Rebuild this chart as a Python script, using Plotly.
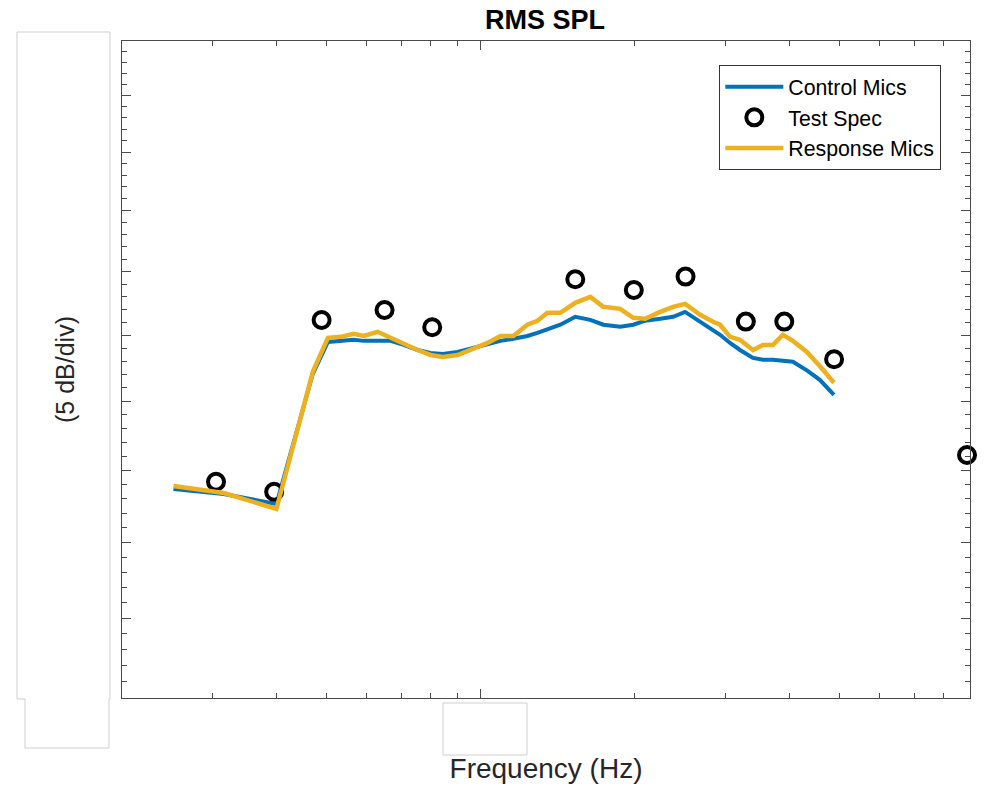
import math
import plotly.graph_objects as go

# ---- data ----
freq_hz = [25.2, 31.6, 40.0, 47.1, 50.4, 53.4, 56.6, 59.2, 63.0, 66.8, 70.8, 75.4,
           79.9, 84.4, 90.2, 96.9, 103.2, 109.4, 115.9, 123.4, 129.1, 135.0, 143.1,
           153.0, 163.7, 173.5, 180.6, 187.2, 198.5, 209.4, 224.0, 237.4, 250.5,
           268.0, 284.0, 293.1, 306.5, 320.5, 339.7, 355.3, 371.6, 388.6, 406.4,
           432.7, 458.6, 488.6]

control_db = [108.68, 108.33, 107.63, 117.04, 119.47, 119.55, 119.63, 119.55, 119.55,
              119.55, 119.24, 118.85, 118.62, 118.55, 118.70, 119.01, 119.32, 119.55,
              119.71, 119.93, 120.17, 120.41, 120.80, 121.42, 121.18, 120.80, 120.72,
              120.64, 120.80, 121.11, 121.26, 121.42, 121.80, 121.03, 120.33, 120.02,
              119.39, 118.85, 118.25, 118.10, 118.10, 118.02, 117.95, 117.30, 116.59,
              115.47]

response_db = [108.89, 108.40, 107.29, 117.19, 119.78, 119.86, 120.09, 119.93, 120.25,
               119.78, 119.39, 118.85, 118.47, 118.32, 118.47, 118.93, 119.39, 119.93,
               119.93, 120.80, 121.11, 121.73, 121.73, 122.51, 122.98, 122.20, 122.12,
               122.04, 121.34, 121.26, 121.80, 122.20, 122.43, 121.57, 121.03, 120.80,
               119.86, 119.63, 118.85, 119.24, 119.24, 120.02, 119.55, 118.70, 117.63,
               116.37]

spec_freq_hz = [30.5, 39.6, 49.0, 65.0, 80.5, 153.0, 199.0, 251.0, 329.0, 391.0, 489.0, 888.0]
spec_db = [109.19, 108.49, 121.17, 121.95, 120.60, 124.39, 123.53, 124.60, 121.04,
           121.04, 118.14, 111.08]

x_major = [100]
x_minor = [20, 30, 40, 50, 60, 70, 80, 90, 200, 300, 400, 500, 600, 700, 800, 900]
y_major = [95, 100, 105, 110, 115, 120, 125, 130, 135, 140, 145]
y_minor = [v for v in range(95, 146) if v % 5 != 0]
x_range_hz = [20, 900]
y_range_db = [95, 145]

# ---- figure ----
W, H = 984, 788
L, R, T, B = 122, 14, 41, 90
PW, PH = W - L - R, H - T - B


def px(xp):
    return (xp - L) / PW


def py(yp):
    return (H - B - yp) / PH


FONT = "Liberation Sans, Arial, Helvetica, sans-serif"
TXT = "#262626"
AX = "#4a4a4a"

fig = go.Figure()
fig.add_trace(go.Scatter(x=freq_hz, y=control_db, mode="lines", name="Control Mics",
                         line=dict(color="#0072BD", width=4)))
fig.add_trace(go.Scatter(x=spec_freq_hz, y=spec_db, mode="markers", name="Test Spec",
                         cliponaxis=False,
                         marker=dict(symbol="circle-open", size=16, color="black",
                                     line=dict(color="black", width=4))))
fig.add_trace(go.Scatter(x=freq_hz, y=response_db, mode="lines", name="Response Mics",
                         line=dict(color="#EDB120", width=4.5)))

fig.update_xaxes(type="log", range=[math.log10(x_range_hz[0]), math.log10(x_range_hz[1])],
                 automargin=False,
                 showgrid=False, zeroline=False, showline=True, linecolor=AX, linewidth=1.3,
                 mirror="ticks", ticks="inside", ticklen=9, tickwidth=1.3, tickcolor=AX,
                 tickmode="array", tickvals=x_major, showticklabels=False,
                 minor=dict(tickmode="array", tickvals=x_minor, ticks="inside", ticklen=5,
                            tickwidth=1.3, tickcolor=AX, showgrid=False),
                 title=dict(text="Frequency (Hz)", font=dict(family=FONT, size=28, color=TXT),
                            standoff=60))
fig.update_yaxes(type="log", range=[math.log10(y_range_db[0]), math.log10(y_range_db[1])],
                 automargin=False,
                 showgrid=False, zeroline=False, showline=True, linecolor=AX, linewidth=1.3,
                 mirror="ticks", ticks="inside", ticklen=9, tickwidth=1.3, tickcolor=AX,
                 tickmode="array", tickvals=y_major, showticklabels=False,
                 minor=dict(tickmode="array", tickvals=y_minor, ticks="inside", ticklen=5,
                            tickwidth=1.3, tickcolor=AX, showgrid=False),
                 title=dict(text="(5 dB/div)", font=dict(family=FONT, size=25, color=TXT),
                            standoff=39))

# redaction boxes over the tick label areas
box_path = (f"M {px(17)},{py(32)} L {px(110)},{py(32)} L {px(110)},{py(699)} "
            f"L {px(109)},{py(699)} L {px(109)},{py(748)} L {px(25)},{py(748)} "
            f"L {px(25)},{py(699)} L {px(17)},{py(699)} Z")
fig.add_shape(type="path", path=box_path, xref="paper", yref="paper",
              line=dict(color="#cfcfcf", width=1), fillcolor="white", layer="above")
fig.add_shape(type="rect", xref="paper", yref="paper", x0=px(443), x1=px(527),
              y0=py(703), y1=py(755), line=dict(color="#cfcfcf", width=1),
              fillcolor="white", layer="above")

fig.update_layout(
    width=W, height=H,
    margin=dict(l=L, r=R, t=T, b=B, autoexpand=False),
    paper_bgcolor="white", plot_bgcolor="white",
    font=dict(family=FONT, color=TXT),
    title=dict(text="<b>RMS SPL</b>", xref="paper", x=px(545), xanchor="center",
               yref="container", y=1 - 20 / H, yanchor="middle",
               font=dict(family=FONT, size=27, color="black")),
    legend=dict(x=px(941), xanchor="right", y=py(65), yanchor="top",
                bgcolor="white", bordercolor="#333333", borderwidth=1.3,
                font=dict(family=FONT, size=21.3, color="black"),
                itemwidth=58, tracegroupgap=0),
    showlegend=True,
)

fig.write_html("out.html")
